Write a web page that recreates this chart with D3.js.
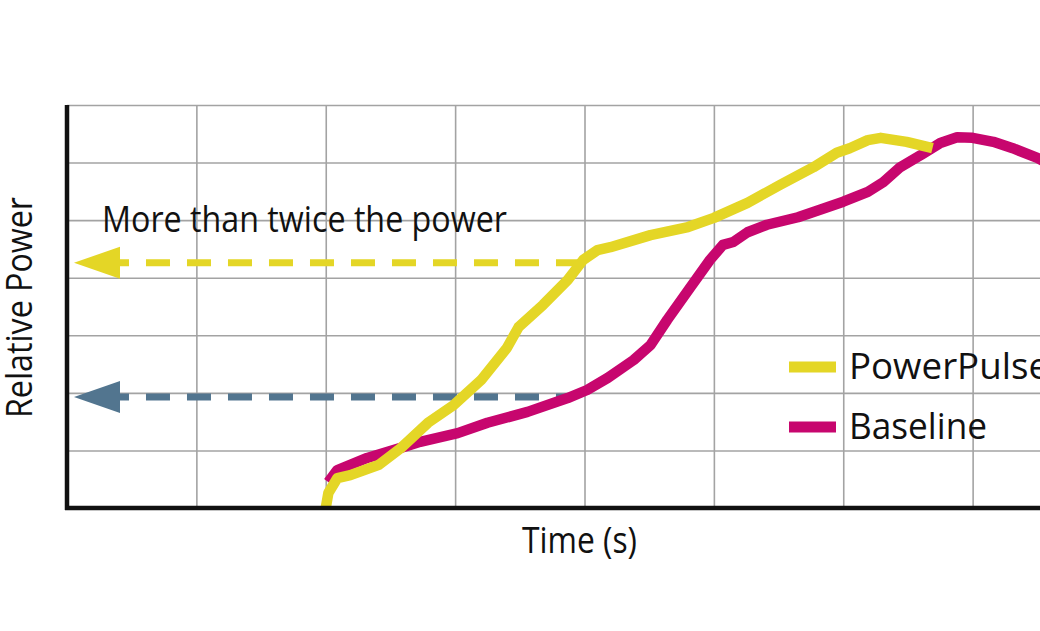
<!DOCTYPE html>
<html>
<head>
<meta charset="utf-8">
<script src="https://cdn.jsdelivr.net/npm/d3@7"></script>
<style>
  body { margin: 0; background: #fff; }
  svg { display: block; }
  text { font-family: "Open Sans", "Noto Sans", sans-serif; fill: #111; }
</style>
</head>
<body>
<svg id="chart" width="1040" height="631"></svg>
<script>
// grid positions (time units, power units)
const xTicks = [0, 1, 2, 3, 4, 5, 6, 7, 8];
const yTicks = [0, 1, 2, 3, 4, 5, 6, 7];

// PowerPulse curve
const powerPulseTime = [2.0, 2.02, 2.09, 2.19, 2.41, 2.58, 2.79, 2.99, 3.2, 3.4, 3.49, 3.68, 3.87, 3.99, 4.1, 4.2, 4.51, 4.8, 5.0, 5.26, 5.51, 5.77, 5.95, 6.05, 6.19, 6.29, 6.49, 6.69];
const powerPulseValue = [0.0, 0.26, 0.52, 0.57, 0.75, 1.04, 1.48, 1.79, 2.22, 2.78, 3.14, 3.53, 3.96, 4.31, 4.48, 4.53, 4.74, 4.88, 5.04, 5.3, 5.61, 5.92, 6.17, 6.25, 6.39, 6.43, 6.36, 6.25];

// Baseline curve
const baselineTime = [2.02, 2.09, 2.32, 2.53, 2.73, 3.02, 3.25, 3.56, 3.87, 4.02, 4.18, 4.38, 4.51, 4.64, 4.82, 4.97, 5.07, 5.15, 5.26, 5.41, 5.65, 5.82, 6.0, 6.19, 6.31, 6.44, 6.6, 6.75, 6.88, 7.0, 7.16, 7.31, 7.5, 7.6];
const baselineValue = [0.45, 0.66, 0.87, 1.01, 1.15, 1.3, 1.48, 1.67, 1.91, 2.05, 2.26, 2.57, 2.83, 3.27, 3.84, 4.31, 4.57, 4.62, 4.79, 4.92, 5.05, 5.18, 5.32, 5.49, 5.66, 5.92, 6.13, 6.34, 6.44, 6.43, 6.36, 6.25, 6.08, 5.96];

// dashed reference arrows: level and where they stop
const arrowLevels = [4.26, 1.93];
const arrowEnds = [3.97, 3.915];
const arrowTip = 0.054;

const seriesNames = ["PowerPulse", "Baseline"];
const annotation = "More than twice the power";

const colors = { pulse: "#e4d626", base: "#c7066e", blue: "#52758f", grid: "#a3a3a3" };

const svg = d3.select("#chart");
const margin = {left: 67, top: 105};
const height = 403;   // plot area down to y = 508
const width = 1035;   // 8 time units, runs past the right edge

const x = d3.scaleLinear().domain([0, 8]).range([margin.left, margin.left + width]);
const y = d3.scaleLinear().domain([0, 7]).range([margin.top + height, margin.top]);

// grid
svg.append("g")
    .attr("transform", "translate(0," + (margin.top + height) + ")")
    .call(d3.axisBottom(x).tickValues(xTicks).tickSize(-height).tickFormat(""))
    .call(g => g.select(".domain").remove())
    .selectAll("line").attr("stroke", colors.grid).attr("stroke-width", 1.6);

svg.append("g")
    .attr("transform", "translate(" + margin.left + ",0)")
    .call(d3.axisLeft(y).tickValues(yTicks).tickSize(-width).tickFormat(""))
    .call(g => g.select(".domain").remove())
    .selectAll("line").attr("stroke", colors.grid).attr("stroke-width", 1.6);

// annotation text
svg.append("text")
    .attr("x", 102).attr("y", 232)
    .attr("font-size", 37)
    .attr("textLength", 405).attr("lengthAdjust", "spacingAndGlyphs")
    .text(annotation);

// dashed arrows
const arrowColors = [colors.pulse, colors.blue];
arrowLevels.forEach(function(lvl, i) {
    let tipX = x(arrowTip);
    let yy = y(lvl);
    svg.append("line")
        .attr("x1", tipX + 45).attr("x2", x(arrowEnds[i]))
        .attr("y1", yy).attr("y2", yy)
        .attr("stroke", arrowColors[i])
        .attr("stroke-width", 7)
        .attr("stroke-dasharray", "24 17")
        .attr("stroke-dashoffset", 14);
    svg.append("path")
        .attr("d", "M" + tipX + "," + yy + "L" + (tipX + 46) + "," + (yy - 16) + "L" + (tipX + 46) + "," + (yy + 16) + "Z")
        .attr("fill", arrowColors[i]);
});

// curves
const line = d3.line()
    .x(d => x(d[0]))
    .y(d => y(d[1]));

svg.append("path")
    .datum(d3.zip(baselineTime, baselineValue))
    .attr("d", line)
    .attr("fill", "none")
    .attr("stroke", colors.base)
    .attr("stroke-width", 10.5)
    .attr("stroke-linejoin", "round");

svg.append("path")
    .datum(d3.zip(powerPulseTime, powerPulseValue))
    .attr("d", line)
    .attr("fill", "none")
    .attr("stroke", colors.pulse)
    .attr("stroke-width", 10.5)
    .attr("stroke-linejoin", "round");

// axes lines
svg.append("line")
    .attr("x1", margin.left).attr("x2", margin.left)
    .attr("y1", margin.top).attr("y2", margin.top + height + 2)
    .attr("stroke", "#111").attr("stroke-width", 4.5);
svg.append("line")
    .attr("x1", margin.left - 2).attr("x2", 1040)
    .attr("y1", margin.top + height).attr("y2", margin.top + height)
    .attr("stroke", "#111").attr("stroke-width", 4.5);

// legend (PowerPulse runs off the right edge, as in the original)
const legendColors = [colors.pulse, colors.base];
const legendWidths = [200, 138];
seriesNames.forEach(function(name, i) {
    let ly = 367 + i * 60;
    svg.append("line")
        .attr("x1", 789).attr("x2", 836)
        .attr("y1", ly).attr("y2", ly)
        .attr("stroke", legendColors[i]).attr("stroke-width", 11);
    svg.append("text")
        .attr("x", 849).attr("y", ly + 12)
        .attr("font-size", 37)
        .attr("textLength", legendWidths[i]).attr("lengthAdjust", "spacingAndGlyphs")
        .text(name);
});

// axis titles
svg.append("text")
    .attr("x", 522).attr("y", 553)
    .attr("font-size", 37)
    .attr("textLength", 115).attr("lengthAdjust", "spacingAndGlyphs")
    .text("Time (s)");

svg.append("text")
    .attr("transform", "translate(32,418) rotate(-90)")
    .attr("font-size", 36)
    .attr("textLength", 221).attr("lengthAdjust", "spacingAndGlyphs")
    .text("Relative Power");
</script>
</body>
</html>
